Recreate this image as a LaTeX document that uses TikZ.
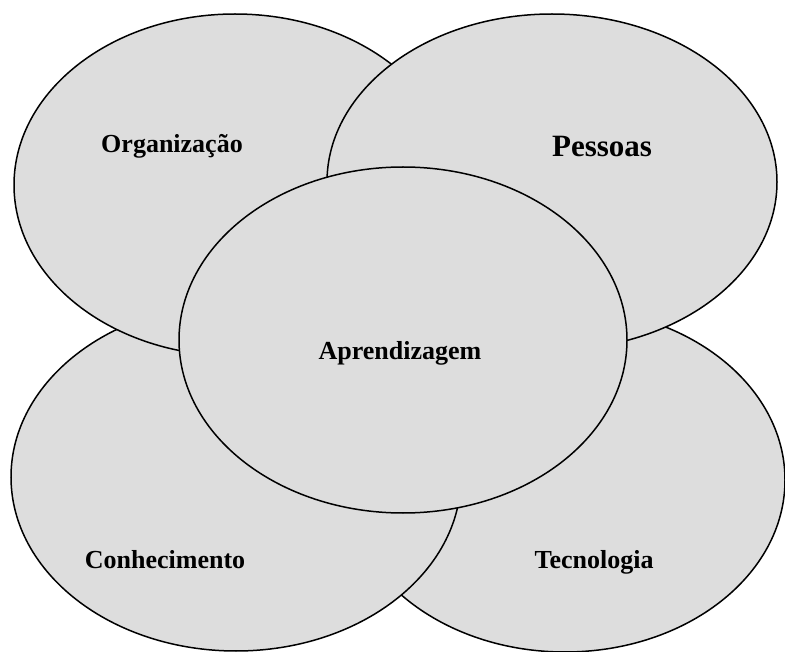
\documentclass[tikz,border=0pt]{standalone}
\usepackage{fontspec}
\setmainfont{Liberation Serif}
\usepackage{xcolor}
\definecolor{fundogray}{HTML}{DDDDDD}
\usetikzlibrary{shapes.geometric}

\begin{document}
\begin{tikzpicture}[x=1pt, y=-1pt, font=\fontsize{26}{30}\selectfont\bfseries,
  bolha/.style={ellipse, draw=black, fill=fundogray, line width=1.5pt, inner sep=0pt},
  rotulo/.style={anchor=base, inner sep=0pt}]
  \useasboundingbox (0,0) rectangle (785,652);
  % elipses, de tras para a frente
  \node[bolha, minimum width=440pt, minimum height=344pt] (tec) at (565,480) {};
  \node[bolha, minimum width=450pt, minimum height=348pt] (con) at (236,477) {};
  \node[bolha, minimum width=442pt, minimum height=342pt] (org) at (235,185) {};
  \node[bolha, minimum width=450pt, minimum height=336pt] (pes) at (552,182) {};
  \node[bolha, minimum width=448pt, minimum height=346pt] (apr) at (403,340) {};
  % textos
  \node[rotulo] (torg) at (172,153) {Organização};
  \node[rotulo, font=\fontsize{31}{36}\selectfont\bfseries] (tpes) at (602,157) {Pessoas};
  \node[rotulo] (tapr) at (400,360) {Aprendizagem};
  \node[rotulo] (tcon) at (165,568) {Conhecimento};
  \node[rotulo] (ttec) at (594,568) {Tecnologia};
\end{tikzpicture}
\end{document}
